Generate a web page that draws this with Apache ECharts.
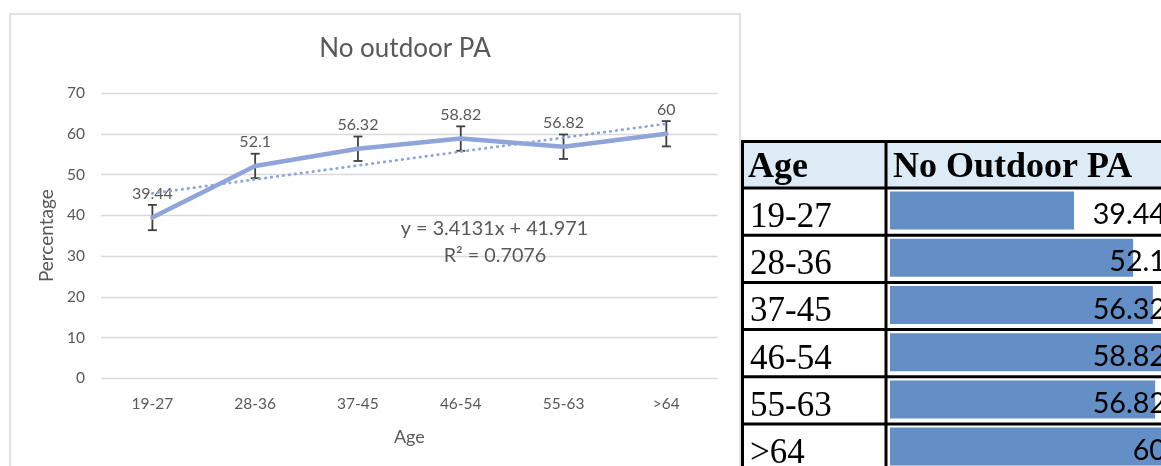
<!DOCTYPE html>
<html><head><meta charset="utf-8">
<script src="https://cdn.jsdelivr.net/npm/echarts@6/dist/echarts.min.js"></script>
<style>html,body{margin:0;padding:0;background:#fff}#c{width:1161px;height:466px}</style>
</head><body><div id="c"></div>
<script>
// ---- data ----
const categories = ['19-27', '28-36', '37-45', '46-54', '55-63', '>64'];
const values = [39.44, 52.1, 56.32, 58.82, 56.82, 60];
const errValues = [3.1, 3.0, 3.0, 3.0, 3.0, 3.1];
const trendValues = [45.38, 48.80, 52.21, 55.62, 59.04, 62.45];
const yTickMin = 0, yTickMax = 70, yTickStep = 10;
const titleText = 'No outdoor PA';
const xAxisTitle = 'Age';
const yAxisTitle = 'Percentage';
const eqText = 'y = 3.4131x + 41.971';
const r2Text = 'R\u00B2 = 0.7076';
const tableHeaders = ['Age', 'No Outdoor PA'];
const barMax = 60;

// ---- style / layout ----
const FONT = "Lato, 'Open Sans', sans-serif";
const SERIF = "'Liberation Serif', 'Times New Roman', serif";
const GRAY = '#595959';
const LINE = '#8FA4D8';
const T = { left: 742.5, div: 886, top: 141.5, hdrBot: 188, rowH: 47.2, bw: 3 };

const chart = echarts.init(document.getElementById('c'), null, { renderer: 'canvas' });

const tableGraphics = [];
tableGraphics.push({ type: 'rect', shape: { x: T.left, y: T.top, width: 430, height: T.hdrBot - T.top }, style: { fill: '#DDEBF7' }, z: 0 });
function hline(y) { tableGraphics.push({ type: 'line', shape: { x1: T.left - 1.5, y1: y, x2: 1170, y2: y }, style: { stroke: '#000', lineWidth: T.bw }, z: 10 }); }
function vline(x) { tableGraphics.push({ type: 'line', shape: { x1: x, y1: T.top - 1.5, x2: x, y2: 480 }, style: { stroke: '#000', lineWidth: T.bw }, z: 10 }); }
hline(T.top);
for (let i = 0; i <= categories.length; i++) hline(T.hdrBot + i * T.rowH);
vline(T.left); vline(T.div);
tableGraphics.push({ type: 'text', x: 748, y: 168, style: { text: tableHeaders[0], font: 'bold 36px ' + SERIF, fill: '#000', verticalAlign: 'middle', align: 'left' }, z: 11 });
tableGraphics.push({ type: 'text', x: 893, y: 168, style: { text: tableHeaders[1], font: 'bold 36px ' + SERIF, fill: '#000', verticalAlign: 'middle', align: 'left' }, z: 11 });

const option = {
  animation: false,
  backgroundColor: '#fff',
  title: {
    text: titleText, left: 400, top: 31, textAlign: 'center',
    textStyle: { fontFamily: FONT, fontSize: 26, fontWeight: 'normal', color: GRAY }
  },
  grid: [
    { left: 101, right: 443.3, top: 93, bottom: 87.7, outerBoundsMode: 'none' },
    { left: 890, width: (1170 - 890), top: 187, height: T.rowH * categories.length, outerBoundsMode: 'none' }
  ],
  xAxis: [
    {
      type: 'category', data: categories, gridIndex: 0, boundaryGap: true,
      axisLine: { show: false }, axisTick: { show: false },
      axisLabel: { color: GRAY, fontFamily: FONT, fontSize: 15.5, margin: 18 },
      name: xAxisTitle, nameLocation: 'middle', nameGap: 50,
      nameTextStyle: { color: GRAY, fontFamily: FONT, fontSize: 18 }
    },
    {
      type: 'value', gridIndex: 1, min: 0, max: barMax, show: false
    }
  ],
  yAxis: [
    {
      type: 'value', gridIndex: 0, min: yTickMin, max: yTickMax, interval: yTickStep,
      axisLine: { show: false }, axisTick: { show: false },
      splitLine: { lineStyle: { color: '#d9d9d9', width: 1.4 } },
      axisLabel: { color: GRAY, fontFamily: FONT, fontSize: 15.5, margin: 16 },
      name: yAxisTitle, nameLocation: 'middle', nameGap: 39, nameRotate: 90,
      nameTextStyle: { color: GRAY, fontFamily: FONT, fontSize: 19 }
    },
    {
      type: 'category', gridIndex: 1, data: categories, inverse: true, position: 'left',
      axisLine: { show: false }, axisTick: { show: false }, splitLine: { show: false },
      axisLabel: { color: '#000', fontFamily: SERIF, fontSize: 35, align: 'left', margin: 140, verticalAlign: 'top', lineHeight: 14.4 }
    },
    {
      type: 'category', gridIndex: 1, data: values.map(String), inverse: true, position: 'right', z: 6,
      axisLine: { show: false }, axisTick: { show: false }, splitLine: { show: false },
      axisLabel: { color: '#000', fontFamily: FONT, fontSize: 28.7, align: 'right', margin: -4, verticalAlign: 'top', lineHeight: 8.8 }
    }
  ],
  series: [
    {
      type: 'custom', xAxisIndex: 0, yAxisIndex: 0, z: 1,
      data: categories.map((c, i) => [i, values[i], errValues[i]]),
      renderItem: function (params, api) {
        const x = api.value(0), y = api.value(1), e = api.value(2);
        const hi = api.coord([x, y + e]), lo = api.coord([x, y - e]);
        const hw = 4.5;
        const st = { stroke: '#404040', lineWidth: 1.8 };
        return {
          type: 'group', children: [
            { type: 'line', shape: { x1: hi[0], y1: hi[1], x2: lo[0], y2: lo[1] }, style: st },
            { type: 'line', shape: { x1: hi[0] - hw, y1: hi[1], x2: hi[0] + hw, y2: hi[1] }, style: st },
            { type: 'line', shape: { x1: lo[0] - hw, y1: lo[1], x2: lo[0] + hw, y2: lo[1] }, style: st }
          ]
        };
      }
    },
    {
      type: 'line', xAxisIndex: 0, yAxisIndex: 0, data: values, z: 2,
      symbol: 'circle', symbolSize: 0.1, showSymbol: true,
      lineStyle: { color: LINE, width: 4.5, cap: 'round', join: 'round' },
      itemStyle: { color: LINE },
      label: { show: true, position: 'top', distance: 16, color: GRAY, fontFamily: FONT, fontSize: 16 }
    },
    {
      type: 'line', xAxisIndex: 0, yAxisIndex: 0, data: trendValues, z: 3,
      symbol: 'none', showSymbol: false, silent: true,
      lineStyle: { color: LINE, width: 2.8, type: [0.5, 5.5], cap: 'round' }
    },
    {
      type: 'bar', xAxisIndex: 1, yAxisIndex: 1, data: values, barWidth: 38,
      itemStyle: { color: '#638EC6' }, z: 2
    }
  ],
  graphic: [
    { type: 'rect', shape: { x: 10, y: 14, width: 730, height: 480 }, style: { fill: 'none', stroke: '#d9d9d9', lineWidth: 1.5 }, z: 0 },
    { type: 'text', x: 494.5, y: 229, style: { text: eqText, font: '19.8px ' + FONT, fill: GRAY, align: 'center', verticalAlign: 'middle' }, z: 5 },
    { type: 'text', x: 495, y: 256, style: { text: r2Text, font: '19.8px ' + FONT, fill: GRAY, align: 'center', verticalAlign: 'middle' }, z: 5 }
  ].concat(tableGraphics)
};
chart.setOption(option);
</script>
</body></html>
